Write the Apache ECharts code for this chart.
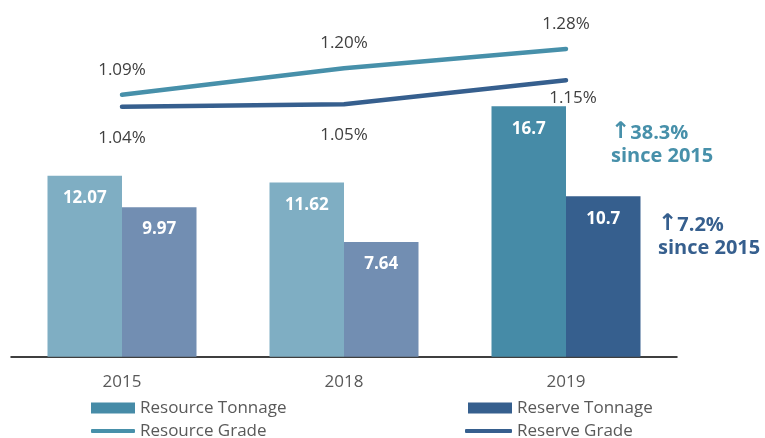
<!DOCTYPE html>
<html>
<head>
<meta charset="utf-8">
<script src="https://cdn.jsdelivr.net/npm/echarts@6/dist/echarts.min.js"></script>
<style>
  html, body { margin: 0; padding: 0; background: #fff; }
  #chart { width: 765px; height: 438px; }
</style>
</head>
<body>
<div id="chart"></div>
<script>
// data
var years = ['2015', '2018', '2019']
var resourceTonnage = [12.07, 11.62, 16.7]
var reserveTonnage = [9.97, 7.64, 10.7]
var resourceGrade = [1.09, 1.20, 1.28]
var reserveGrade = [1.04, 1.05, 1.15]

var FONT = '"Open Sans", "Noto Sans", sans-serif'
var TEAL = '#4790aa'
var NAVY = '#365f8e'

var chart = echarts.init(document.getElementById('chart'))

// older years use the lighter shade
function barData(values, light, dark) {
  return values.map(function(v, i) {
    return { value: v, itemStyle: { color: i < 2 ? light : dark }}
  })
}

function legendBox(name, left, top, icon, w, h) {
  return {
    data: [name],
    left: left,
    top: top,
    padding: 0,
    icon: icon,
    itemWidth: w,
    itemHeight: h,
    itemGap: 0,
    selectedMode: false,
    textStyle: { fontFamily: FONT, fontSize: 17, color: '#595959', lineHeight: 20, padding: [0, 0, 0, 0] }
  }
}

// "↑xx%" / "since 2015" callout
function callout(x, y, pct, color) {
  return {
    type: 'text',
    x: x,
    y: y,
    style: {
      text: '{a|\u2191}{b|' + pct + '}\n{b|since 2015}',
      fill: color,
      rich: {
        a: { font: 'bold 23px "DejaVu Sans"', fill: color, lineHeight: 23, padding: [0, 0, 2, 0] },
        b: { font: 'bold 20px ' + FONT, fill: color, lineHeight: 23 }
      }
    }
  }
}

chart.setOption({
  animation: false,
  grid: { left: 11, right: 88, top: 36.7, bottom: 81.3 },
  xAxis: {
    type: 'category',
    data: years,
    axisTick: { show: false },
    axisLine: { lineStyle: { color: '#000', width: 1.5 }},
    axisLabel: { color: '#595959', fontSize: 17, fontFamily: FONT, margin: 17 }
  },
  yAxis: [
    { type: 'value', min: 0, max: 21.333, show: false },
    { type: 'value', min: 0, max: 1.3311, show: false }
  ],
  legend: [
    legendBox('Resource Tonnage', 91, 398, 'rect', 44, 11),
    legendBox('Reserve Tonnage', 468, 398, 'rect', 44, 11),
    legendBox('Resource Grade', 91, 421, 'roundRect', 44, 4),
    legendBox('Reserve Grade', 465, 421, 'roundRect', 47, 4)
  ],
  series: [
    {
      name: 'Resource Tonnage',
      type: 'bar',
      barWidth: 74.5,
      barGap: '0%',
      itemStyle: { color: '#468ba7' },
      data: barData(resourceTonnage, '#7faec3', '#468ba7'),
      label: {
        show: true, position: 'insideTop', distance: 14,
        color: '#fff', fontWeight: 'bold', fontSize: 17, fontFamily: FONT
      }
    },
    {
      name: 'Reserve Tonnage',
      type: 'bar',
      barWidth: 74.5,
      barGap: '0%',
      itemStyle: { color: NAVY },
      data: barData(reserveTonnage, '#728eb2', NAVY),
      label: {
        show: true, position: 'insideTop', distance: 14,
        color: '#fff', fontWeight: 'bold', fontSize: 17, fontFamily: FONT
      }
    },
    {
      name: 'Resource Grade',
      type: 'line',
      yAxisIndex: 1,
      symbol: 'circle',
      symbolSize: 1,
      itemStyle: { color: TEAL },
      lineStyle: { color: TEAL, width: 4.5, cap: 'round' },
      data: resourceGrade,
      label: {
        show: true, position: 'top', distance: 16,
        color: '#404040', fontSize: 17, fontFamily: FONT,
        formatter: function(p) { return p.value.toFixed(2) + '%' }
      }
    },
    {
      name: 'Reserve Grade',
      type: 'line',
      yAxisIndex: 1,
      symbol: 'circle',
      symbolSize: 1,
      itemStyle: { color: NAVY },
      lineStyle: { color: NAVY, width: 4.5, cap: 'round' },
      data: reserveGrade.map(function(v, i) {
        // last label sits tight under the line, nudged right
        return i === 2 ? { value: v, label: { distance: 9, offset: [7, 0] }} : v
      }),
      label: {
        show: true, position: 'bottom', distance: 22,
        color: '#404040', fontSize: 17, fontFamily: FONT,
        formatter: function(p) { return p.value.toFixed(2) + '%' }
      }
    }
  ],
  graphic: [
    callout(611, 122, '38.3%', TEAL),
    callout(658, 214, '7.2%', NAVY)
  ]
})
</script>
</body>
</html>
